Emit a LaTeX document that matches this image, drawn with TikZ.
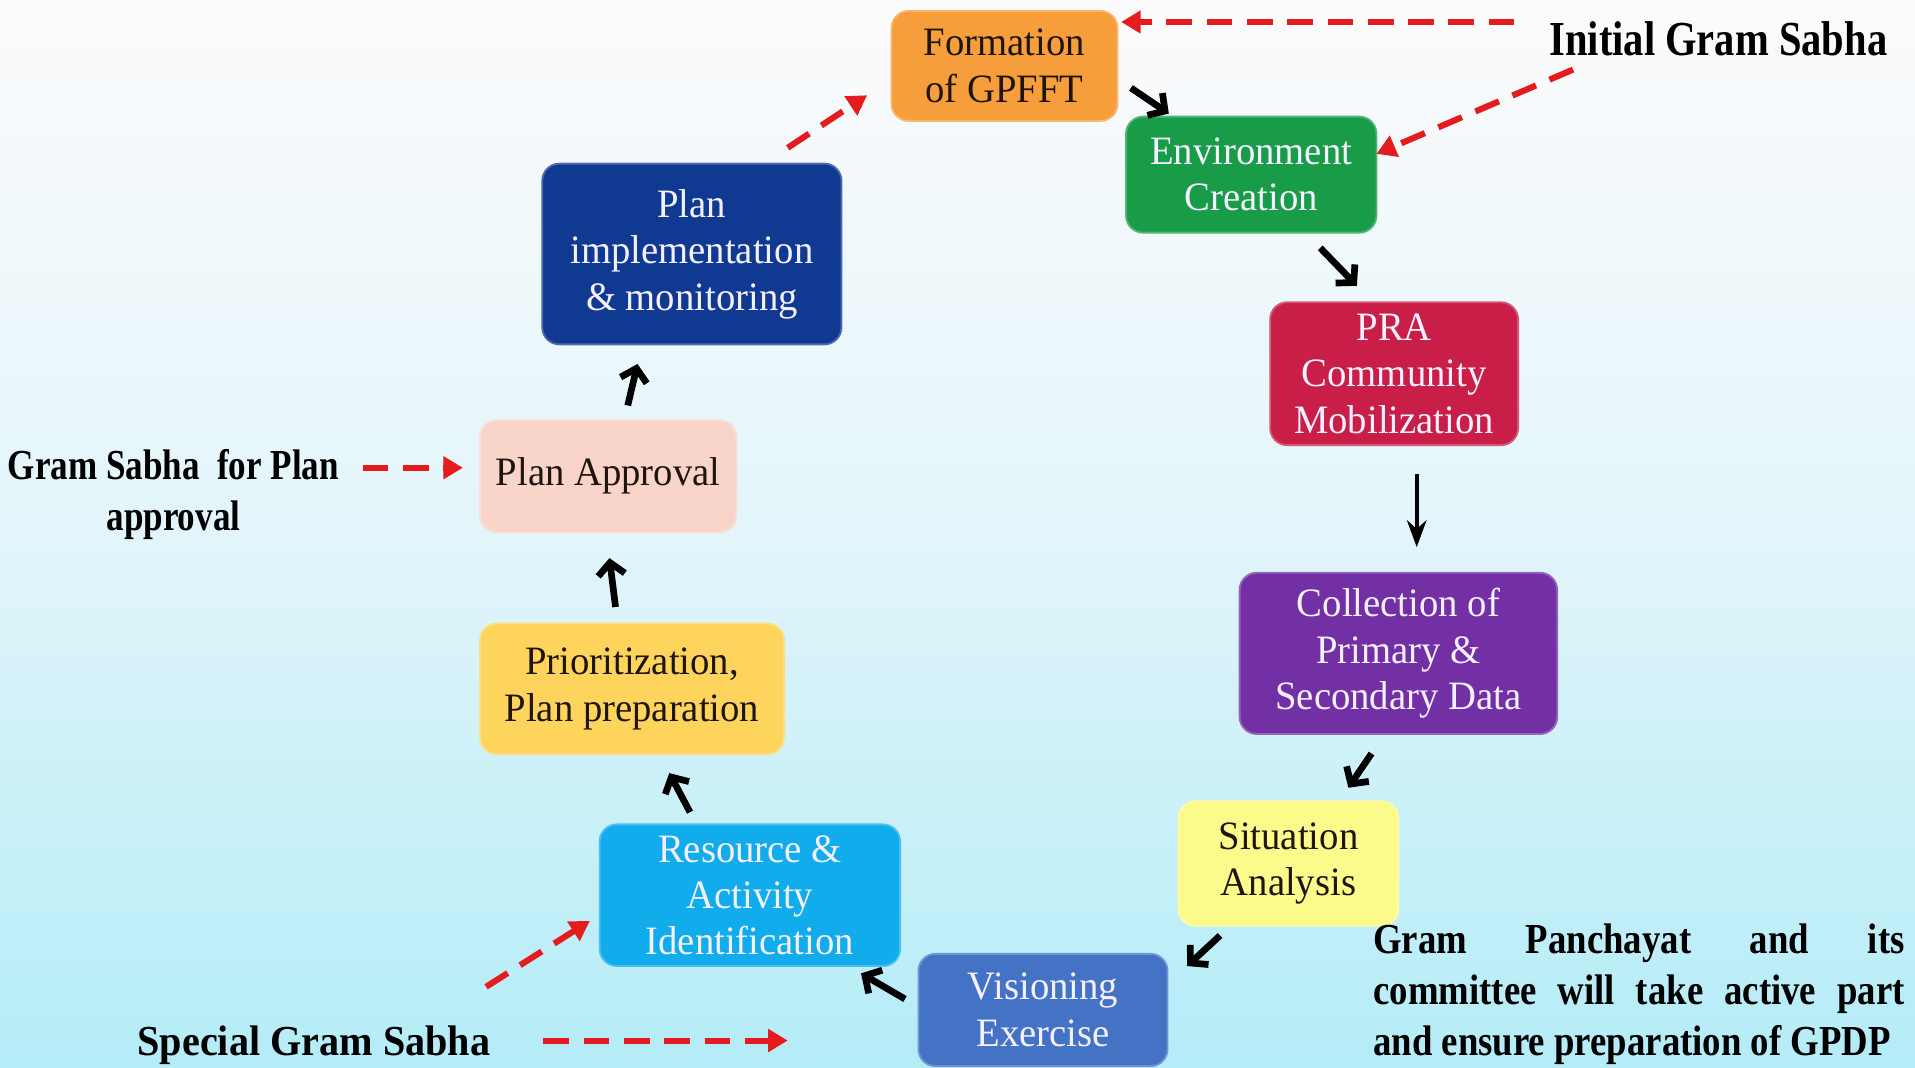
\documentclass[tikz,border=0pt]{standalone}
\usepackage{fontspec}
\setmainfont{Liberation Serif}
\newfontfamily\boxfont{Liberation Serif}[FakeStretch=0.96]
\newfontfamily\lblA{Liberation Serif}[FakeStretch=0.83]
\newfontfamily\lblB{Liberation Serif}[FakeStretch=0.82]
\newfontfamily\lblC{Liberation Serif}[FakeStretch=0.94]
\newfontfamily\lblD{Liberation Serif}[FakeStretch=0.86]
\usetikzlibrary{arrows.meta,calc}
\definecolor{bgtop}{RGB}{252,251,252}
\definecolor{bgmid}{RGB}{226,245,250}
\definecolor{bgbot}{RGB}{180,236,247}
\definecolor{cForm}{RGB}{247,158,60}
\definecolor{cEnv}{RGB}{24,156,72}
\definecolor{cPra}{RGB}{200,30,72}
\definecolor{cColl}{RGB}{115,48,165}
\definecolor{cSit}{RGB}{253,250,140}
\definecolor{cVis}{RGB}{68,114,196}
\definecolor{cRes}{RGB}{16,172,236}
\definecolor{cPrio}{RGB}{255,212,92}
\definecolor{cAppr}{RGB}{249,212,200}
\definecolor{cImpl}{RGB}{16,58,145}
\definecolor{cRed}{RGB}{228,28,30}
\definecolor{txtdark}{RGB}{30,22,14}
\definecolor{txtlight}{RGB}{244,240,255}
\begin{document}
\begin{tikzpicture}[x=1pt,y=-1pt,
  box/.style={rounded corners=14pt, align=center, inner sep=0pt,
    font=\boxfont\fontsize{33}{38}\selectfont},
  lbl/.style={inner sep=0pt, text=black},
  blk/.style={draw=black, line width=5.5pt, -{Straight Barb[length=10pt,width=22pt]}},
  blkthin/.style={draw=black, line width=3.2pt, -{Stealth[length=22pt,width=16pt]}},
  rdash/.style={draw=cRed, line width=5pt, dash pattern=on 21pt off 12pt,
    -{Triangle[length=16pt,width=18pt]}}]
\fill[top color=bgtop, bottom color=bgbot, middle color=bgmid] (0,0) rectangle (1568,874);
\useasboundingbox (0,0) rectangle (1568,874);

% boxes
\node[box, fill=cForm, draw=cForm!75!white, line width=1.5pt, text=txtdark,
  minimum width=185pt, minimum height=90pt] (form) at (822.5,54) {Formation\\of GPFFT};
\node[box, fill=cEnv, draw=cEnv!75!white, line width=1.5pt, text=txtlight,
  minimum width=205pt, minimum height=95pt] (env) at (1024.5,143) {Environment\\Creation};
\node[box, fill=cPra, draw=cPra!75!white, line width=1.5pt, text=txtlight,
  minimum width=203pt, minimum height=117pt] (pra) at (1141.5,306) {PRA\\Community\\Mobilization};
\node[box, fill=cColl, draw=cColl!75!white, line width=1.5pt, text=txtlight,
  minimum width=260pt, minimum height=132pt] (coll) at (1145,535) {Collection of\\Primary \&\\Secondary Data};
\node[box, fill=cSit, draw=cSit!75!white, line width=1.5pt, text=txtdark,
  minimum width=180pt, minimum height=102pt] (sit) at (1055,707) {Situation\\Analysis};
\node[box, fill=cVis, draw=cVis!75!white, line width=1.5pt, text=txtlight,
  minimum width=204pt, minimum height=92pt] (vis) at (854,827) {Visioning\\Exercise};
\node[box, fill=cRes, draw=cRes!75!white, line width=1.5pt, text=txtlight,
  minimum width=246pt, minimum height=116pt] (res) at (614,733) {Resource \&\\Activity\\Identification};
\node[box, fill=cPrio, draw=cPrio!75!white, line width=1.5pt, text=txtdark,
  minimum width=249pt, minimum height=107pt] (prio) at (517.5,564) {Prioritization,\\Plan preparation};
\node[box, fill=cAppr, draw=cAppr!75!white, line width=1.5pt, text=txtdark,
  minimum width=210pt, minimum height=92pt] (appr) at (498,390) {Plan Approval};
\node[box, fill=cImpl, draw=cImpl!75!white, line width=1.5pt, text=txtlight,
  minimum width=245pt, minimum height=148pt] (impl) at (566.5,208) {Plan\\implementation\\\& monitoring};

% labels
\node[lbl, font=\lblA\bfseries\fontsize{40}{46}\selectfont] (igs) at (1407,32) {Initial Gram Sabha};
\node[lbl, align=center, font=\lblB\bfseries\fontsize{35}{42}\selectfont] (gsp) at (142,405) {Gram Sabha\ \ for Plan\\approval};
\node[lbl, font=\lblC\bfseries\fontsize{35}{42}\selectfont] (sgs) at (257,856) {Special Gram Sabha};
\node[lbl, text width=435pt, align=justify, font=\lblD\bfseries\fontsize{35}{42}\selectfont] (gp) at (1342,814)
  {Gram Panchayat and its\linebreak committee will take active part\linebreak and ensure preparation of GPDP};

% black arrow end points
\coordinate (a1t) at (926,72);   \coordinate (a1h) at (957,93);
\coordinate (a2t) at (1081,203); \coordinate (a2h) at (1111,234);
\coordinate (a3t) at (1160,388); \coordinate (a3h) at (1160,448);
\coordinate (a4t) at (1123,617); \coordinate (a4h) at (1104,645);
\coordinate (a5t) at (999,766);  \coordinate (a5h) at (972,791);
\coordinate (a6t) at (741,818);  \coordinate (a6h) at (705,797);
\coordinate (a7t) at (565,665);  \coordinate (a7h) at (548,633);
\coordinate (a8t) at (504,497);  \coordinate (a8h) at (499,457);
\coordinate (a9t) at (514,332);  \coordinate (a9h) at (522,298);
\draw[blk] (a1t) -- (a1h);
\draw[blk] (a2t) -- (a2h);
\draw[blkthin] (a3t) -- (a3h);
\draw[blk] (a4t) -- (a4h);
\draw[blk] (a5t) -- (a5h);
\draw[blk] (a6t) -- (a6h);
\draw[blk] (a7t) -- (a7h);
\draw[blk] (a8t) -- (a8h);
\draw[blk] (a9t) -- (a9h);

% red dashed arrows
\coordinate (r1t) at (1240,18);  \coordinate (r1h) at (918,18);
\coordinate (r2t) at (1288,57);  \coordinate (r2h) at (1127,126);
\coordinate (r3t) at (297,383);  \coordinate (r3h) at (379,383);
\coordinate (r4t) at (398,808);  \coordinate (r4h) at (483,754);
\coordinate (r5t) at (445,852);  \coordinate (r5h) at (645,852);
\coordinate (r6t) at (645,121);  \coordinate (r6h) at (710,78);
\draw[rdash] (r1t) -- (r1h);
\draw[rdash] (r2t) -- (r2h);
\draw[rdash] (r3t) -- (r3h);
\draw[rdash] (r4t) -- (r4h);
\draw[rdash] (r5t) -- (r5h);
\draw[rdash] (r6t) -- (r6h);
\end{tikzpicture}
\end{document}
